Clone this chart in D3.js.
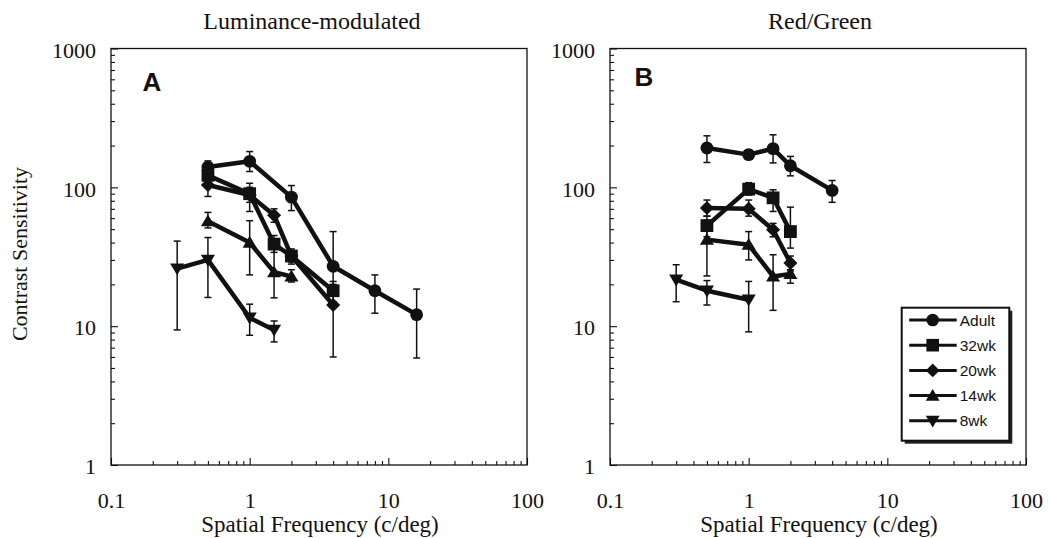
<!DOCTYPE html>
<html>
<head>
<meta charset="utf-8">
<script src="https://cdnjs.cloudflare.com/ajax/libs/d3/7.8.5/d3.min.js"></script>
<style>
  body { margin: 0; background: #fff; }
  svg { display: block; }
  .serif { font-family: "Liberation Serif", "Times New Roman", serif; fill: #111; }
  .sans { font-family: "Liberation Sans", Arial, sans-serif; fill: #111; }
</style>
</head>
<body>
<div id="chart"></div>
<script>
var groups = ["Adult", "32wk", "20wk", "14wk", "8wk"];
var shapes = ["circle", "square", "diamond", "triangleUp", "triangleDown"];
var xTickLabels = ["0.1", "1", "10", "100"];
var yTickLabels = ["1", "10", "100", "1000"];

// luminance-modulated: [c/deg, sensitivity, error low, error high]
var lumAdult = [[0.5, 140, 125, 155], [1, 154, 130, 181], [2, 85, 68, 103], [4, 27, 18, 48], [8, 18, 12.4, 23.4], [16, 12.1, 5.9, 18.5]];
var lum32wk = [[0.5, 122, 108, 136], [1, 90, 67, 107], [1.5, 39, 34, 45], [2, 32, 28, 36], [4, 18, 15, 21]];
var lum20wk = [[0.5, 104, 86, 118], [1, 88, 78, 100], [1.5, 63, 56, 70], [2, 32, 29, 35], [4, 14.2, 6, 20]];
var lum14wk = [[0.5, 57, 51, 66], [1, 40, 23.4, 57.5], [1.5, 24.5, 16, 42], [2, 22.8, 20.8, 25.5]];
var lum8wk = [[0.3, 26, 9.4, 41], [0.5, 30, 16.1, 43.5], [1, 11.5, 8.6, 14.4], [1.5, 9.4, 7.7, 10.9]];

// red/green
var rgAdult = [[0.5, 192, 151, 235], [1, 172, 160, 186], [1.5, 190, 150, 239], [2, 143, 121, 167], [4, 95, 78, 112]];
var rg32wk = [[0.5, 53, 44, 62], [1, 97, 88, 108], [1.5, 84, 67, 96], [2, 48, 36.5, 72]];
var rg20wk = [[0.5, 71, 62, 81], [1, 70, 62, 81], [1.5, 49.5, 44, 55], [2, 28.5, 25, 32]];
var rg14wk = [[0.5, 42, 23, 58], [1, 38.6, 30, 48], [1.5, 22.8, 13, 32.7], [2, 23.8, 20.4, 25.5]];
var rg8wk = [[0.3, 21.6, 15, 27.7], [0.5, 18, 14.2, 21.3], [1, 15.5, 9.1, 21]];

var panels = [
  {title: "Luminance-modulated", tag: "A", left: 111, titleShift: -7, tagX: 31.5, tagY: 42, yTitle: true,
   series: [lumAdult, lum32wk, lum20wk, lum14wk, lum8wk]},
  {title: "Red/Green", tag: "B", left: 610, titleShift: 2, tagX: 24.5, tagY: 37, yTitle: false,
   series: [rgAdult, rg32wk, rg20wk, rg14wk, rg8wk], legend: true}
];

var W = 1048, H = 538;
var top0 = 48.5, pw = 416, ph = 416.5;

var svg = d3.select("#chart").append("svg")
    .attr("width", W)
    .attr("height", H);

var x = d3.scaleLog().domain([0.1, 100]).range([0, pw]);
var y = d3.scaleLog().domain([1, 1000]).range([ph, 0]);

function isMajor(v) {
  var l = Math.log10(v);
  return Math.abs(l - Math.round(l)) < 1e-6;
}

function markerPath(kind, s) {
  if (kind === "circle") return d3.symbol(d3.symbolCircle, Math.PI * s * s)();
  if (kind === "square") return "M" + (-s) + "," + (-s) + "H" + s + "V" + s + "H" + (-s) + "Z";
  if (kind === "diamond") {
    var h = s * 1.1;
    return "M0," + (-h) + "L" + h + ",0L0," + h + "L" + (-h) + ",0Z";
  }
  var w = s * 1.1, t = s * 1.05, b = s * 0.8;
  if (kind === "triangleUp") return "M0," + (-t) + "L" + w + "," + b + "L" + (-w) + "," + b + "Z";
  return "M0," + t + "L" + w + "," + (-b) + "L" + (-w) + "," + (-b) + "Z";
}

function drawPanel(p) {
  var g = svg.append("g").attr("transform", "translate(" + p.left + "," + top0 + ")");

  // x axis, ticks pointing inward
  var xAxis = d3.axisBottom(x)
      .tickValues(x.ticks())
      .tickSizeOuter(0)
      .tickSizeInner(-7)
      .tickPadding(27)
      .tickFormat(function(d) { return isMajor(d) ? xTickLabels[Math.round(Math.log10(d)) + 1] : ""; });

  var gx = g.append("g").attr("transform", "translate(0," + ph + ")").call(xAxis);
  gx.select(".domain").remove();
  gx.selectAll(".tick line")
      .attr("y2", function(d) { return isMajor(d) ? -7 : -4; })
      .attr("stroke", "#111")
      .attr("stroke-width", 1.1);
  gx.selectAll(".tick text")
      .attr("class", "serif")
      .attr("font-size", 22);

  var yAxis = d3.axisLeft(y)
      .tickValues(y.ticks())
      .tickSizeOuter(0)
      .tickSizeInner(-7)
      .tickPadding(15)
      .tickFormat(function(d) { return isMajor(d) ? yTickLabels[Math.round(Math.log10(d))] : ""; });

  var gy = g.append("g").call(yAxis);
  gy.select(".domain").remove();
  gy.selectAll(".tick line")
      .attr("x2", function(d) { return isMajor(d) ? 7 : 4; })
      .attr("stroke", "#111")
      .attr("stroke-width", 1.1);
  gy.selectAll(".tick text")
      .attr("class", "serif")
      .attr("font-size", 22)
      .attr("dy", "0.4em");

  g.append("rect")
      .attr("width", pw)
      .attr("height", ph)
      .attr("fill", "none")
      .attr("stroke", "#111")
      .attr("stroke-width", 1.3);

  // titles
  g.append("text")
      .attr("class", "serif")
      .attr("x", pw / 2 + p.titleShift)
      .attr("y", 29 - top0)
      .attr("text-anchor", "middle")
      .attr("font-size", 24)
      .text(p.title);

  g.append("text")
      .attr("class", "serif")
      .attr("x", pw / 2 + 1)
      .attr("y", 531.5 - top0)
      .attr("text-anchor", "middle")
      .attr("font-size", 23)
      .text("Spatial Frequency (c/deg)");

  if (p.yTitle) {
    g.append("text")
        .attr("class", "serif")
        .attr("transform", "translate(" + (27 - p.left) + "," + (254 - top0) + ") rotate(-90)")
        .attr("text-anchor", "middle")
        .attr("font-size", 22)
        .text("Contrast Sensitivity");
  }

  g.append("text")
      .attr("class", "sans")
      .attr("x", p.tagX)
      .attr("y", p.tagY)
      .attr("font-size", 26)
      .attr("font-weight", "bold")
      .text(p.tag);

  var line = d3.line()
      .x(function(d) { return x(d[0]); })
      .y(function(d) { return y(d[1]); });

  // draw youngest first so adults sit on top
  for (var i = p.series.length - 1; i >= 0; i--) {
    var data = p.series[i];
    var sg = g.append("g");

    var eb = sg.selectAll(".eb").data(data).enter().append("g")
        .attr("stroke", "#111")
        .attr("stroke-width", 1.5);
    eb.append("line")
        .attr("x1", function(d) { return x(d[0]); })
        .attr("x2", function(d) { return x(d[0]); })
        .attr("y1", function(d) { return y(d[2]); })
        .attr("y2", function(d) { return y(d[3]); });
    eb.append("line")
        .attr("x1", function(d) { return x(d[0]) - 3.5; })
        .attr("x2", function(d) { return x(d[0]) + 3.5; })
        .attr("y1", function(d) { return y(d[2]); })
        .attr("y2", function(d) { return y(d[2]); });
    eb.append("line")
        .attr("x1", function(d) { return x(d[0]) - 3.5; })
        .attr("x2", function(d) { return x(d[0]) + 3.5; })
        .attr("y1", function(d) { return y(d[3]); })
        .attr("y2", function(d) { return y(d[3]); });

    sg.append("path")
        .datum(data)
        .attr("d", line)
        .attr("fill", "none")
        .attr("stroke", "#111")
        .attr("stroke-width", 4.5)
        .attr("stroke-linejoin", "round");

    sg.selectAll(".mk").data(data).enter().append("path")
        .attr("transform", function(d) { return "translate(" + x(d[0]) + "," + y(d[1]) + ")"; })
        .attr("d", markerPath(shapes[i], 6.4))
        .attr("fill", "#111");
  }

  if (p.legend) {
    var lx = 291.7, ly = 259.2, lw = 107.6, lh = 133;
    var lg = g.append("g").attr("transform", "translate(" + lx + "," + ly + ")");
    lg.append("rect")
        .attr("x", 3).attr("y", 3)
        .attr("width", lw).attr("height", lh)
        .attr("fill", "#222");
    lg.append("rect")
        .attr("width", lw).attr("height", lh)
        .attr("fill", "#fff")
        .attr("stroke", "#111")
        .attr("stroke-width", 2);

    var rows = lg.selectAll(".row").data(groups).enter().append("g")
        .attr("transform", function(d, k) { return "translate(0," + (12.3 + k * 25.2) + ")"; });
    rows.append("line")
        .attr("x1", 7.5).attr("x2", 55)
        .attr("stroke", "#111")
        .attr("stroke-width", 3);
    rows.append("path")
        .attr("transform", "translate(31,0)")
        .attr("d", function(d, k) { return markerPath(shapes[k], 6.3); })
        .attr("fill", "#111");
    rows.append("text")
        .attr("class", "sans")
        .attr("x", 58)
        .attr("y", 5.5)
        .attr("font-size", 15.5)
        .text(function(d) { return d; });
  }
}

panels.forEach(drawPanel);
</script>
</body>
</html>
